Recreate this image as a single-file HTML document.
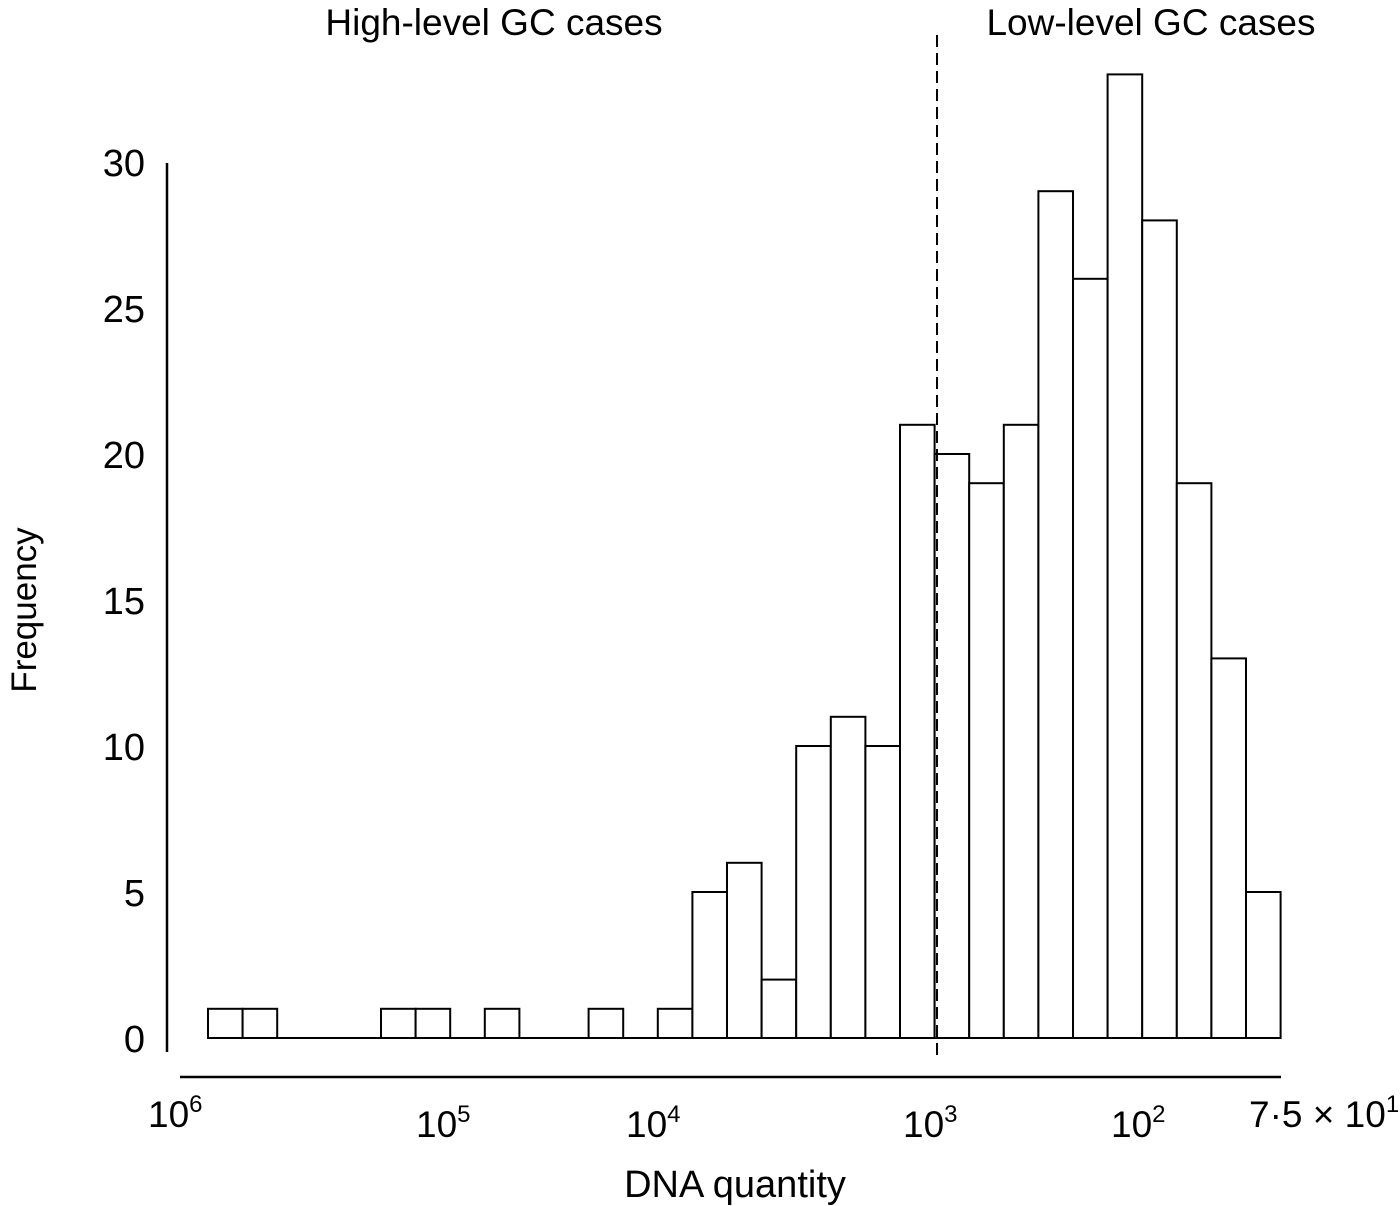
<!DOCTYPE html>
<html><head><meta charset="utf-8"><style>
html,body{margin:0;padding:0;background:#fff}
svg{display:block;font-family:"Liberation Sans",Arial,sans-serif}
</style></head><body>
<svg id="chart" width="1400" height="1206" viewBox="0 0 1400 1206" xmlns="http://www.w3.org/2000/svg">
<g id="bars"></g>
<line x1="208" y1="1038" x2="1281" y2="1038" stroke="#000" stroke-width="2"/>
<line x1="167" y1="163" x2="167" y2="1052" stroke="#000" stroke-width="2.5"/>
<line x1="180" y1="1077" x2="1281" y2="1077" stroke="#000" stroke-width="2.5"/>
<line x1="937" y1="35" x2="937" y2="1060" stroke="#000" stroke-width="2" stroke-dasharray="12,6"/>
<g id="yticks" font-size="38" text-anchor="end"></g>
<g font-size="37">
<text x="148" y="1127">10<tspan font-size="24" dy="-15">6</tspan></text>
<text x="416" y="1137">10<tspan font-size="24" dy="-15">5</tspan></text>
<text x="626" y="1137">10<tspan font-size="24" dy="-15">4</tspan></text>
<text x="903" y="1137">10<tspan font-size="24" dy="-15">3</tspan></text>
<text x="1111" y="1137">10<tspan font-size="24" dy="-15">2</tspan></text>
<text x="1249" y="1127">7·5 × 10<tspan font-size="24" dy="-15">1</tspan></text>
</g>
<text x="735" y="1197" font-size="38" text-anchor="middle">DNA quantity</text>
<text transform="translate(36,610) rotate(-90)" font-size="35" text-anchor="middle">Frequency</text>
<text x="494" y="35" font-size="37" text-anchor="middle">High-level GC cases</text>
<text x="1151" y="35" font-size="37" text-anchor="middle">Low-level GC cases</text>
</svg>
<script>
const counts = [1,1,0,0,0,1,1,0,1,0,0,1,0,1,5,6,2,10,11,10,21,20,19,21,29,26,33,28,19,13,5];
const yTicks = [0,5,10,15,20,25,30];
const x0 = 208, binW = 34.6, yBase = 1038, perUnit = 29.2;
function xs(i){return x0 + i*binW;}
function ys(v){return yBase - v*perUnit;}
const NS = "http://www.w3.org/2000/svg";
const bg = document.getElementById('bars');
counts.forEach((c,i)=>{
  if(c<=0) return;
  const r = document.createElementNS(NS,'rect');
  r.setAttribute('x', xs(i)); r.setAttribute('y', ys(c));
  r.setAttribute('width', binW); r.setAttribute('height', yBase-ys(c));
  r.setAttribute('fill','#fff'); r.setAttribute('stroke','#000'); r.setAttribute('stroke-width','2');
  
  
  bg.appendChild(r);
});
const yg = document.getElementById('yticks');
yTicks.forEach(t=>{
  const tx = document.createElementNS(NS,'text');
  tx.setAttribute('x', 145); tx.setAttribute('y', ys(t)+14);
  tx.textContent = t;
  
  
  yg.appendChild(tx);
});
</script>
</body></html>
